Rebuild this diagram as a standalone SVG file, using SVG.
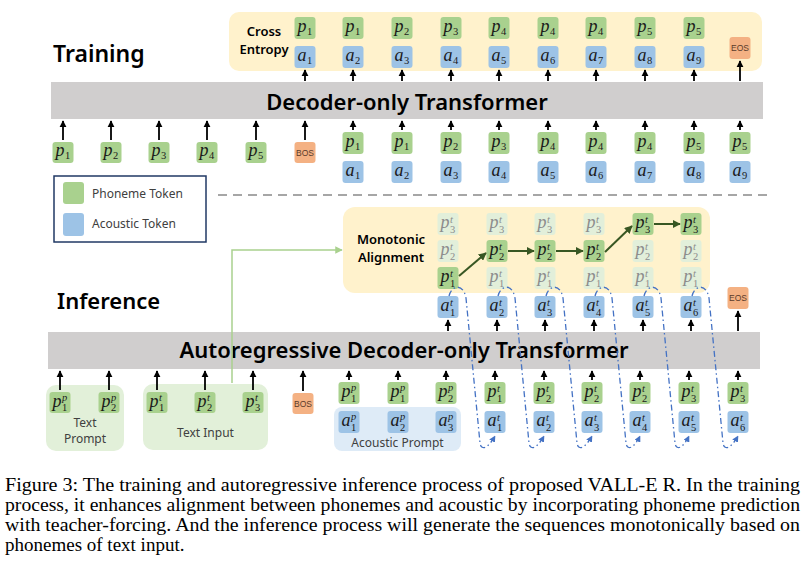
<svg xmlns="http://www.w3.org/2000/svg" width="811" height="566" viewBox="0 0 811 566">
<style>
.tg{fill:#A9D18E}.tb{fill:#9DC3E6}.to{fill:#F4B183}.tf{fill:#E2EFDA}
.m{font-family:"Liberation Serif","DejaVu Serif",serif;font-style:italic;font-size:18px;fill:#1a1a1a}
.s{font-family:"Liberation Serif","DejaVu Serif",serif;font-size:10.5px;fill:#1a1a1a}
.si{font-family:"Liberation Serif","DejaVu Serif",serif;font-style:italic;font-size:10.5px;fill:#1a1a1a}
.fd .m,.fd .s,.fd .si{fill:#8c8c8c}
.e{font-family:"Liberation Sans",Arial,sans-serif;font-size:8.5px;fill:#5a3a2a;text-anchor:middle}
.h{font-family:"Noto Sans",sans-serif;font-weight:600;fill:#000}
.sm{font-family:"Noto Sans",sans-serif;font-weight:600;font-size:13px;fill:#000;text-anchor:middle}
.lb{font-family:"Noto Sans",sans-serif;font-size:12px;fill:#404040}
.ar{stroke:#000;stroke-width:1.8;fill:none;marker-end:url(#ak)}
.dg{stroke:#385723;stroke-width:2;fill:none;marker-end:url(#adg)}
.bl{stroke:#4472C4;stroke-width:1.3;fill:none;stroke-dasharray:6 3 1.5 3;marker-end:url(#abl)}
.cap{font-family:"Liberation Serif","Times New Roman",serif;font-size:19px;fill:#000}
</style>
<defs>
<marker id="ak" viewBox="0 0 10 10" refX="9" refY="5" markerWidth="4" markerHeight="4" orient="auto"><path d="M0,0 L10,5 L0,10 z" fill="#000"/></marker>
<marker id="adg" viewBox="0 0 10 10" refX="9" refY="5" markerWidth="4" markerHeight="4" orient="auto"><path d="M0,0 L10,5 L0,10 z" fill="#385723"/></marker>
<marker id="alg" viewBox="0 0 10 10" refX="9" refY="5" markerWidth="5" markerHeight="5" orient="auto"><path d="M0,0 L10,5 L0,10 z" fill="#A9D18E"/></marker>
<marker id="abl" viewBox="0 0 10 10" refX="9" refY="5" markerWidth="5" markerHeight="5" orient="auto"><path d="M0,0 L10,5 L0,10 z" fill="#4472C4"/></marker>
</defs>
<rect width="811" height="566" fill="#fff"/>

<!-- Training -->
<text class="h" x="53" y="62" font-size="23">Training</text>
<g id="ce-box"><rect x="229" y="12" width="533" height="59" rx="10" fill="#FFF2CC"/>
<text class="sm" x="264" y="36">Cross</text>
<text class="sm" x="264" y="54">Entropy</text></g>

<g id="dec-bar"><rect x="51" y="82" width="712" height="37" fill="#D0CECE"/>
<text class="h" x="407" y="110" font-size="22" text-anchor="middle">Decoder-only Transformer</text></g>

<!-- training outputs -->
<g id="to-p1"><rect class="tg" x="294.5" y="17" width="21" height="22" rx="3"/><text class="m" x="297.5" y="32">p</text><text class="s" x="307" y="35">1</text></g>
<g id="to-p2"><rect class="tg" x="342.5" y="17" width="21" height="22" rx="3"/><text class="m" x="345.5" y="32">p</text><text class="s" x="355" y="35">1</text></g>
<g id="to-p3"><rect class="tg" x="391.5" y="17" width="21" height="22" rx="3"/><text class="m" x="394.5" y="32">p</text><text class="s" x="404" y="35">2</text></g>
<g id="to-p4"><rect class="tg" x="440.5" y="17" width="21" height="22" rx="3"/><text class="m" x="443.5" y="32">p</text><text class="s" x="453" y="35">3</text></g>
<g id="to-p5"><rect class="tg" x="488.5" y="17" width="21" height="22" rx="3"/><text class="m" x="491.5" y="32">p</text><text class="s" x="501" y="35">4</text></g>
<g id="to-p6"><rect class="tg" x="537.5" y="17" width="21" height="22" rx="3"/><text class="m" x="540.5" y="32">p</text><text class="s" x="550" y="35">4</text></g>
<g id="to-p7"><rect class="tg" x="585.5" y="17" width="21" height="22" rx="3"/><text class="m" x="588.5" y="32">p</text><text class="s" x="598" y="35">4</text></g>
<g id="to-p8"><rect class="tg" x="634.5" y="17" width="21" height="22" rx="3"/><text class="m" x="637.5" y="32">p</text><text class="s" x="647" y="35">5</text></g>
<g id="to-p9"><rect class="tg" x="683.5" y="17" width="21" height="22" rx="3"/><text class="m" x="686.5" y="32">p</text><text class="s" x="696" y="35">5</text></g>
<g id="to-a1"><rect class="tb" x="294.5" y="46" width="21" height="22" rx="3"/><text class="m" x="297.5" y="61">a</text><text class="s" x="307" y="64">1</text></g>
<g id="to-a2"><rect class="tb" x="342.5" y="46" width="21" height="22" rx="3"/><text class="m" x="345.5" y="61">a</text><text class="s" x="355" y="64">2</text></g>
<g id="to-a3"><rect class="tb" x="391.5" y="46" width="21" height="22" rx="3"/><text class="m" x="394.5" y="61">a</text><text class="s" x="404" y="64">3</text></g>
<g id="to-a4"><rect class="tb" x="440.5" y="46" width="21" height="22" rx="3"/><text class="m" x="443.5" y="61">a</text><text class="s" x="453" y="64">4</text></g>
<g id="to-a5"><rect class="tb" x="488.5" y="46" width="21" height="22" rx="3"/><text class="m" x="491.5" y="61">a</text><text class="s" x="501" y="64">5</text></g>
<g id="to-a6"><rect class="tb" x="537.5" y="46" width="21" height="22" rx="3"/><text class="m" x="540.5" y="61">a</text><text class="s" x="550" y="64">6</text></g>
<g id="to-a7"><rect class="tb" x="585.5" y="46" width="21" height="22" rx="3"/><text class="m" x="588.5" y="61">a</text><text class="s" x="598" y="64">7</text></g>
<g id="to-a8"><rect class="tb" x="634.5" y="46" width="21" height="22" rx="3"/><text class="m" x="637.5" y="61">a</text><text class="s" x="647" y="64">8</text></g>
<g id="to-a9"><rect class="tb" x="683.5" y="46" width="21" height="22" rx="3"/><text class="m" x="686.5" y="61">a</text><text class="s" x="696" y="64">9</text></g>
<g id="to-eos"><rect class="to" x="729.5" y="37" width="21" height="22" rx="3"/><text class="e" x="740" y="51">EOS</text></g>

<!-- training inputs -->
<g id="ti-p1"><rect class="tg" x="52.5" y="142" width="21" height="21" rx="3"/><text class="m" x="55.5" y="156">p</text><text class="s" x="65" y="159">1</text></g>
<g id="ti-p2"><rect class="tg" x="100.5" y="142" width="21" height="21" rx="3"/><text class="m" x="103.5" y="156">p</text><text class="s" x="113" y="159">2</text></g>
<g id="ti-p3"><rect class="tg" x="148.5" y="142" width="21" height="21" rx="3"/><text class="m" x="151.5" y="156">p</text><text class="s" x="161" y="159">3</text></g>
<g id="ti-p4"><rect class="tg" x="196.5" y="142" width="21" height="21" rx="3"/><text class="m" x="199.5" y="156">p</text><text class="s" x="209" y="159">4</text></g>
<g id="ti-p5"><rect class="tg" x="245.5" y="142" width="21" height="21" rx="3"/><text class="m" x="248.5" y="156">p</text><text class="s" x="258" y="159">5</text></g>
<g id="ti-bos"><rect class="to" x="294.5" y="142" width="21" height="21" rx="3"/><text class="e" x="305" y="155.5">BOS</text></g>
<g id="ti-cp1"><rect class="tg" x="342.5" y="132" width="21" height="22" rx="3"/><text class="m" x="345.5" y="147">p</text><text class="s" x="355" y="150">1</text></g>
<g id="ti-cp2"><rect class="tg" x="391.5" y="132" width="21" height="22" rx="3"/><text class="m" x="394.5" y="147">p</text><text class="s" x="404" y="150">1</text></g>
<g id="ti-cp3"><rect class="tg" x="440.5" y="132" width="21" height="22" rx="3"/><text class="m" x="443.5" y="147">p</text><text class="s" x="453" y="150">2</text></g>
<g id="ti-cp4"><rect class="tg" x="488.5" y="132" width="21" height="22" rx="3"/><text class="m" x="491.5" y="147">p</text><text class="s" x="501" y="150">3</text></g>
<g id="ti-cp5"><rect class="tg" x="537.5" y="132" width="21" height="22" rx="3"/><text class="m" x="540.5" y="147">p</text><text class="s" x="550" y="150">4</text></g>
<g id="ti-cp6"><rect class="tg" x="585.5" y="132" width="21" height="22" rx="3"/><text class="m" x="588.5" y="147">p</text><text class="s" x="598" y="150">4</text></g>
<g id="ti-cp7"><rect class="tg" x="634.5" y="132" width="21" height="22" rx="3"/><text class="m" x="637.5" y="147">p</text><text class="s" x="647" y="150">4</text></g>
<g id="ti-cp8"><rect class="tg" x="683.5" y="132" width="21" height="22" rx="3"/><text class="m" x="686.5" y="147">p</text><text class="s" x="696" y="150">5</text></g>
<g id="ti-cp9"><rect class="tg" x="729.5" y="132" width="21" height="22" rx="3"/><text class="m" x="732.5" y="147">p</text><text class="s" x="742" y="150">5</text></g>
<g id="ti-ca1"><rect class="tb" x="342.5" y="161" width="21" height="22" rx="3"/><text class="m" x="345.5" y="176">a</text><text class="s" x="355" y="179">1</text></g>
<g id="ti-ca2"><rect class="tb" x="391.5" y="161" width="21" height="22" rx="3"/><text class="m" x="394.5" y="176">a</text><text class="s" x="404" y="179">2</text></g>
<g id="ti-ca3"><rect class="tb" x="440.5" y="161" width="21" height="22" rx="3"/><text class="m" x="443.5" y="176">a</text><text class="s" x="453" y="179">3</text></g>
<g id="ti-ca4"><rect class="tb" x="488.5" y="161" width="21" height="22" rx="3"/><text class="m" x="491.5" y="176">a</text><text class="s" x="501" y="179">4</text></g>
<g id="ti-ca5"><rect class="tb" x="537.5" y="161" width="21" height="22" rx="3"/><text class="m" x="540.5" y="176">a</text><text class="s" x="550" y="179">5</text></g>
<g id="ti-ca6"><rect class="tb" x="585.5" y="161" width="21" height="22" rx="3"/><text class="m" x="588.5" y="176">a</text><text class="s" x="598" y="179">6</text></g>
<g id="ti-ca7"><rect class="tb" x="634.5" y="161" width="21" height="22" rx="3"/><text class="m" x="637.5" y="176">a</text><text class="s" x="647" y="179">7</text></g>
<g id="ti-ca8"><rect class="tb" x="683.5" y="161" width="21" height="22" rx="3"/><text class="m" x="686.5" y="176">a</text><text class="s" x="696" y="179">8</text></g>
<g id="ti-ca9"><rect class="tb" x="729.5" y="161" width="21" height="22" rx="3"/><text class="m" x="732.5" y="176">a</text><text class="s" x="742" y="179">9</text></g>

<!-- legend -->
<g id="legend"><rect x="54" y="176" width="152" height="66" fill="#fff" stroke="#203864" stroke-width="1.5"/>
<rect class="tg" x="63" y="182" width="21" height="22" rx="3"/><text class="lb" x="92" y="198">Phoneme Token</text>
<rect class="tb" x="63" y="213" width="21" height="23" rx="3"/><text class="lb" x="92" y="228">Acoustic Token</text></g>
<line x1="218" y1="195" x2="768" y2="195" stroke="#A6A6A6" stroke-width="2" stroke-dasharray="9 6"/>

<!-- Inference -->
<text class="h" x="57" y="309" font-size="22">Inference</text>
<g id="ma-box"><rect x="343" y="207" width="367" height="86" rx="12" fill="#FFF2CC"/>
<text class="sm" x="391" y="244">Monotonic</text>
<text class="sm" x="391" y="262">Alignment</text></g>

<!-- grid col1 -->
<g id="g1-p3" class="fd"><rect class="tf" x="437.5" y="213" width="21" height="22" rx="3"/><text class="m" x="440.5" y="228">p</text><text class="si" x="450" y="222.5">t</text><text class="s" x="450" y="232.5">3</text></g>
<g id="g1-p2" class="fd"><rect class="tf" x="437.5" y="240" width="21" height="22" rx="3"/><text class="m" x="440.5" y="255">p</text><text class="si" x="450" y="249.5">t</text><text class="s" x="450" y="259.5">2</text></g>
<g id="g1-p1"><rect class="tg" x="437.5" y="267" width="21" height="22" rx="3"/><text class="m" x="440.5" y="282">p</text><text class="si" x="450" y="276.5">t</text><text class="s" x="450" y="286.5">1</text></g>
<!-- col2 -->
<g id="g2-p3" class="fd"><rect class="tf" x="486.5" y="213" width="21" height="22" rx="3"/><text class="m" x="489.5" y="228">p</text><text class="si" x="499" y="222.5">t</text><text class="s" x="499" y="232.5">3</text></g>
<g id="g2-p2"><rect class="tg" x="486.5" y="240" width="21" height="22" rx="3"/><text class="m" x="489.5" y="255">p</text><text class="si" x="499" y="249.5">t</text><text class="s" x="499" y="259.5">2</text></g>
<g id="g2-p1" class="fd"><rect class="tf" x="486.5" y="267" width="21" height="22" rx="3"/><text class="m" x="489.5" y="282">p</text><text class="si" x="499" y="276.5">t</text><text class="s" x="499" y="286.5">1</text></g>
<!-- col3 -->
<g id="g3-p3" class="fd"><rect class="tf" x="534.5" y="213" width="21" height="22" rx="3"/><text class="m" x="537.5" y="228">p</text><text class="si" x="547" y="222.5">t</text><text class="s" x="547" y="232.5">3</text></g>
<g id="g3-p2"><rect class="tg" x="534.5" y="240" width="21" height="22" rx="3"/><text class="m" x="537.5" y="255">p</text><text class="si" x="547" y="249.5">t</text><text class="s" x="547" y="259.5">2</text></g>
<g id="g3-p1" class="fd"><rect class="tf" x="534.5" y="267" width="21" height="22" rx="3"/><text class="m" x="537.5" y="282">p</text><text class="si" x="547" y="276.5">t</text><text class="s" x="547" y="286.5">1</text></g>
<!-- col4 -->
<g id="g4-p3" class="fd"><rect class="tf" x="583.5" y="213" width="21" height="22" rx="3"/><text class="m" x="586.5" y="228">p</text><text class="si" x="596" y="222.5">t</text><text class="s" x="596" y="232.5">3</text></g>
<g id="g4-p2"><rect class="tg" x="583.5" y="240" width="21" height="22" rx="3"/><text class="m" x="586.5" y="255">p</text><text class="si" x="596" y="249.5">t</text><text class="s" x="596" y="259.5">2</text></g>
<g id="g4-p1" class="fd"><rect class="tf" x="583.5" y="267" width="21" height="22" rx="3"/><text class="m" x="586.5" y="282">p</text><text class="si" x="596" y="276.5">t</text><text class="s" x="596" y="286.5">1</text></g>
<!-- col5 -->
<g id="g5-p3"><rect class="tg" x="632.5" y="213" width="21" height="22" rx="3"/><text class="m" x="635.5" y="228">p</text><text class="si" x="645" y="222.5">t</text><text class="s" x="645" y="232.5">3</text></g>
<g id="g5-p2" class="fd"><rect class="tf" x="632.5" y="240" width="21" height="22" rx="3"/><text class="m" x="635.5" y="255">p</text><text class="si" x="645" y="249.5">t</text><text class="s" x="645" y="259.5">2</text></g>
<g id="g5-p1" class="fd"><rect class="tf" x="632.5" y="267" width="21" height="22" rx="3"/><text class="m" x="635.5" y="282">p</text><text class="si" x="645" y="276.5">t</text><text class="s" x="645" y="286.5">1</text></g>
<!-- col6 -->
<g id="g6-p3"><rect class="tg" x="680.5" y="213" width="21" height="22" rx="3"/><text class="m" x="683.5" y="228">p</text><text class="si" x="693" y="222.5">t</text><text class="s" x="693" y="232.5">3</text></g>
<g id="g6-p2" class="fd"><rect class="tf" x="680.5" y="240" width="21" height="22" rx="3"/><text class="m" x="683.5" y="255">p</text><text class="si" x="693" y="249.5">t</text><text class="s" x="693" y="259.5">2</text></g>
<g id="g6-p1" class="fd"><rect class="tf" x="680.5" y="267" width="21" height="22" rx="3"/><text class="m" x="683.5" y="282">p</text><text class="si" x="693" y="276.5">t</text><text class="s" x="693" y="286.5">1</text></g>

<!-- inference outputs a^t -->
<g id="io-a1"><rect class="tb" x="437.5" y="296" width="21" height="22" rx="3"/><text class="m" x="440.5" y="311">a</text><text class="si" x="450" y="305.5">t</text><text class="s" x="450" y="315.5">1</text></g>
<g id="io-a2"><rect class="tb" x="486.5" y="296" width="21" height="22" rx="3"/><text class="m" x="489.5" y="311">a</text><text class="si" x="499" y="305.5">t</text><text class="s" x="499" y="315.5">2</text></g>
<g id="io-a3"><rect class="tb" x="534.5" y="296" width="21" height="22" rx="3"/><text class="m" x="537.5" y="311">a</text><text class="si" x="547" y="305.5">t</text><text class="s" x="547" y="315.5">3</text></g>
<g id="io-a4"><rect class="tb" x="583.5" y="296" width="21" height="22" rx="3"/><text class="m" x="586.5" y="311">a</text><text class="si" x="596" y="305.5">t</text><text class="s" x="596" y="315.5">4</text></g>
<g id="io-a5"><rect class="tb" x="632.5" y="296" width="21" height="22" rx="3"/><text class="m" x="635.5" y="311">a</text><text class="si" x="645" y="305.5">t</text><text class="s" x="645" y="315.5">5</text></g>
<g id="io-a6"><rect class="tb" x="680.5" y="296" width="21" height="22" rx="3"/><text class="m" x="683.5" y="311">a</text><text class="si" x="693" y="305.5">t</text><text class="s" x="693" y="315.5">6</text></g>
<g id="io-eos"><rect class="to" x="727.5" y="287" width="21" height="22" rx="3"/><text class="e" x="738" y="301">EOS</text></g>

<g id="ar-bar"><rect x="48" y="332" width="712" height="37" fill="#D0CECE"/>
<text class="h" x="404" y="358" font-size="22" text-anchor="middle">Autoregressive Decoder-only Transformer</text></g>

<!-- bottom groups -->
<g id="text-prompt"><rect x="46" y="385" width="78" height="66" rx="10" fill="#E2F0D9"/>
<text class="lb" x="85" y="427" text-anchor="middle">Text</text><text class="lb" x="85" y="443" text-anchor="middle">Prompt</text></g>
<g id="tp-p1"><rect class="tg" x="49.5" y="392" width="21" height="21" rx="3"/><text class="m" x="52.5" y="406.5">p</text><text class="si" x="62" y="400.5">p</text><text class="s" x="62" y="411">1</text></g>
<g id="tp-p2"><rect class="tg" x="98.5" y="392" width="21" height="21" rx="3"/><text class="m" x="101.5" y="406.5">p</text><text class="si" x="111" y="400.5">p</text><text class="s" x="111" y="411">2</text></g>

<g id="text-input"><rect x="143" y="384" width="125" height="66" rx="10" fill="#E2F0D9"/>
<text class="lb" x="205.5" y="437" text-anchor="middle">Text Input</text></g>
<g id="tx-p1"><rect class="tg" x="146.5" y="392" width="21" height="21" rx="3"/><text class="m" x="149.5" y="406.5">p</text><text class="si" x="159" y="400.5">t</text><text class="s" x="159" y="411">1</text></g>
<g id="tx-p2"><rect class="tg" x="194.5" y="392" width="21" height="21" rx="3"/><text class="m" x="197.5" y="406.5">p</text><text class="si" x="207" y="400.5">t</text><text class="s" x="207" y="411">2</text></g>
<g id="tx-p3"><rect class="tg" x="242.5" y="392" width="21" height="21" rx="3"/><text class="m" x="245.5" y="406.5">p</text><text class="si" x="255" y="400.5">t</text><text class="s" x="255" y="411">3</text></g>

<g id="inf-bos"><rect class="to" x="292.5" y="393" width="21" height="21" rx="3"/><text class="e" x="303" y="406.5">BOS</text></g>

<g id="acoustic-prompt"><rect x="334" y="407" width="127" height="44" rx="8" fill="#DEEBF7"/>
<text class="lb" x="397.5" y="447" text-anchor="middle">Acoustic Prompt</text></g>
<g id="ap-p1"><rect class="tg" x="338.5" y="382" width="21" height="22" rx="3"/><text class="m" x="341.5" y="397">p</text><text class="si" x="351" y="391">p</text><text class="s" x="351" y="401.5">1</text></g>
<g id="ap-p2"><rect class="tg" x="387.5" y="382" width="21" height="22" rx="3"/><text class="m" x="390.5" y="397">p</text><text class="si" x="400" y="391">p</text><text class="s" x="400" y="401.5">1</text></g>
<g id="ap-p3"><rect class="tg" x="435.5" y="382" width="21" height="22" rx="3"/><text class="m" x="438.5" y="397">p</text><text class="si" x="448" y="391">p</text><text class="s" x="448" y="401.5">2</text></g>
<g id="ap-a1"><rect class="tb" x="338.5" y="411" width="21" height="22" rx="3"/><text class="m" x="341.5" y="426">a</text><text class="si" x="351" y="420">p</text><text class="s" x="351" y="430.5">1</text></g>
<g id="ap-a2"><rect class="tb" x="387.5" y="411" width="21" height="22" rx="3"/><text class="m" x="390.5" y="426">a</text><text class="si" x="400" y="420">p</text><text class="s" x="400" y="430.5">2</text></g>
<g id="ap-a3"><rect class="tb" x="435.5" y="411" width="21" height="22" rx="3"/><text class="m" x="438.5" y="426">a</text><text class="si" x="448" y="420">p</text><text class="s" x="448" y="430.5">3</text></g>

<!-- inference inputs -->
<g id="ii-p1"><rect class="tg" x="484.5" y="382" width="21" height="22" rx="3"/><text class="m" x="487.5" y="397">p</text><text class="si" x="497" y="391.5">t</text><text class="s" x="497" y="401.5">1</text></g>
<g id="ii-p2"><rect class="tg" x="533.5" y="382" width="21" height="22" rx="3"/><text class="m" x="536.5" y="397">p</text><text class="si" x="546" y="391.5">t</text><text class="s" x="546" y="401.5">2</text></g>
<g id="ii-p3"><rect class="tg" x="581.5" y="382" width="21" height="22" rx="3"/><text class="m" x="584.5" y="397">p</text><text class="si" x="594" y="391.5">t</text><text class="s" x="594" y="401.5">2</text></g>
<g id="ii-p4"><rect class="tg" x="629.5" y="382" width="21" height="22" rx="3"/><text class="m" x="632.5" y="397">p</text><text class="si" x="642" y="391.5">t</text><text class="s" x="642" y="401.5">2</text></g>
<g id="ii-p5"><rect class="tg" x="678.5" y="382" width="21" height="22" rx="3"/><text class="m" x="681.5" y="397">p</text><text class="si" x="691" y="391.5">t</text><text class="s" x="691" y="401.5">3</text></g>
<g id="ii-p6"><rect class="tg" x="727.5" y="382" width="21" height="22" rx="3"/><text class="m" x="730.5" y="397">p</text><text class="si" x="740" y="391.5">t</text><text class="s" x="740" y="401.5">3</text></g>
<g id="ii-a1"><rect class="tb" x="484.5" y="411" width="21" height="22" rx="3"/><text class="m" x="487.5" y="426">a</text><text class="si" x="497" y="420.5">t</text><text class="s" x="497" y="430.5">1</text></g>
<g id="ii-a2"><rect class="tb" x="533.5" y="411" width="21" height="22" rx="3"/><text class="m" x="536.5" y="426">a</text><text class="si" x="546" y="420.5">t</text><text class="s" x="546" y="430.5">2</text></g>
<g id="ii-a3"><rect class="tb" x="581.5" y="411" width="21" height="22" rx="3"/><text class="m" x="584.5" y="426">a</text><text class="si" x="594" y="420.5">t</text><text class="s" x="594" y="430.5">3</text></g>
<g id="ii-a4"><rect class="tb" x="629.5" y="411" width="21" height="22" rx="3"/><text class="m" x="632.5" y="426">a</text><text class="si" x="642" y="420.5">t</text><text class="s" x="642" y="430.5">4</text></g>
<g id="ii-a5"><rect class="tb" x="678.5" y="411" width="21" height="22" rx="3"/><text class="m" x="681.5" y="426">a</text><text class="si" x="691" y="420.5">t</text><text class="s" x="691" y="430.5">5</text></g>
<g id="ii-a6"><rect class="tb" x="727.5" y="411" width="21" height="22" rx="3"/><text class="m" x="730.5" y="426">a</text><text class="si" x="740" y="420.5">t</text><text class="s" x="740" y="430.5">6</text></g>

<!-- connectors -->
<g id="connectors">
<g class="ar">
<line x1="305" y1="81" x2="305" y2="70"/><line x1="353" y1="81" x2="353" y2="70"/><line x1="402" y1="81" x2="402" y2="70"/><line x1="451" y1="81" x2="451" y2="70"/><line x1="499" y1="81" x2="499" y2="70"/><line x1="548" y1="81" x2="548" y2="70"/><line x1="596" y1="81" x2="596" y2="70"/><line x1="645" y1="81" x2="645" y2="70"/><line x1="694" y1="81" x2="694" y2="70"/><line x1="740" y1="81" x2="740" y2="61"/>
<line x1="63" y1="140" x2="63" y2="121"/><line x1="111" y1="140" x2="111" y2="121"/><line x1="159" y1="140" x2="159" y2="121"/><line x1="207" y1="140" x2="207" y2="121"/><line x1="256" y1="140" x2="256" y2="121"/><line x1="305" y1="140" x2="305" y2="121"/>
<line x1="353" y1="130" x2="353" y2="121"/><line x1="402" y1="130" x2="402" y2="121"/><line x1="451" y1="130" x2="451" y2="121"/><line x1="499" y1="130" x2="499" y2="121"/><line x1="548" y1="130" x2="548" y2="121"/><line x1="596" y1="130" x2="596" y2="121"/><line x1="645" y1="130" x2="645" y2="121"/><line x1="694" y1="130" x2="694" y2="121"/><line x1="740" y1="130" x2="740" y2="121"/>
<line x1="448" y1="331" x2="448" y2="320"/><line x1="497" y1="331" x2="497" y2="320"/><line x1="545" y1="331" x2="545" y2="320"/><line x1="594" y1="331" x2="594" y2="320"/><line x1="643" y1="331" x2="643" y2="320"/><line x1="691" y1="331" x2="691" y2="320"/><line x1="738" y1="331" x2="738" y2="311"/>
<line x1="60" y1="390" x2="60" y2="371"/><line x1="109" y1="390" x2="109" y2="371"/><line x1="157" y1="390" x2="157" y2="371"/><line x1="205" y1="390" x2="205" y2="371"/><line x1="253" y1="390" x2="253" y2="371"/><line x1="303" y1="391" x2="303" y2="371"/>
<line x1="349" y1="380" x2="349" y2="371"/><line x1="398" y1="380" x2="398" y2="371"/><line x1="446" y1="380" x2="446" y2="371"/>
<line x1="495" y1="380" x2="495" y2="371"/><line x1="544" y1="380" x2="544" y2="371"/><line x1="592" y1="380" x2="592" y2="371"/><line x1="640" y1="380" x2="640" y2="371"/><line x1="689" y1="380" x2="689" y2="371"/><line x1="738" y1="380" x2="738" y2="371"/>
</g>
<g class="dg">
<line x1="459" y1="276" x2="486" y2="253"/><line x1="508" y1="251" x2="534" y2="251"/><line x1="556" y1="251" x2="583" y2="251"/><line x1="605" y1="252" x2="632" y2="226"/><line x1="654" y1="224" x2="680" y2="224"/>
</g>
<path d="M232 383 L232 250 L342 250" fill="none" stroke="#A9D18E" stroke-width="1.5" marker-end="url(#alg)"/>
<g class="bl">
<path d="M449 296 C451 286 463 282 466 298 L480 443 C481 450 487 450 495 436"/>
<path d="M498 296 C500 286 512 282 515 298 L529 443 C530 450 536 450 544 436"/>
<path d="M546 296 C548 286 560 282 563 298 L577 443 C578 450 584 450 592 436"/>
<path d="M595 296 C597 286 609 282 612 298 L626 443 C627 450 633 450 640 436"/>
<path d="M644 296 C646 286 658 282 661 298 L675 443 C676 450 682 450 689 436"/>
<path d="M692 296 C694 286 706 282 709 298 L723 443 C724 450 730 450 738 436"/>
</g>
</g>

<!-- caption -->
<text class="cap" x="5" y="491" textLength="795" lengthAdjust="spacingAndGlyphs">Figure 3: The training and autoregressive inference process of proposed VALL-E R. In the training</text>
<text class="cap" x="5" y="511" textLength="795" lengthAdjust="spacingAndGlyphs">process, it enhances alignment between phonemes and acoustic by incorporating phoneme prediction</text>
<text class="cap" x="5" y="531" textLength="795" lengthAdjust="spacingAndGlyphs">with teacher-forcing. And the inference process will generate the sequences monotonically based on</text>
<text class="cap" x="5" y="551">phonemes of text input.</text>
</svg>
